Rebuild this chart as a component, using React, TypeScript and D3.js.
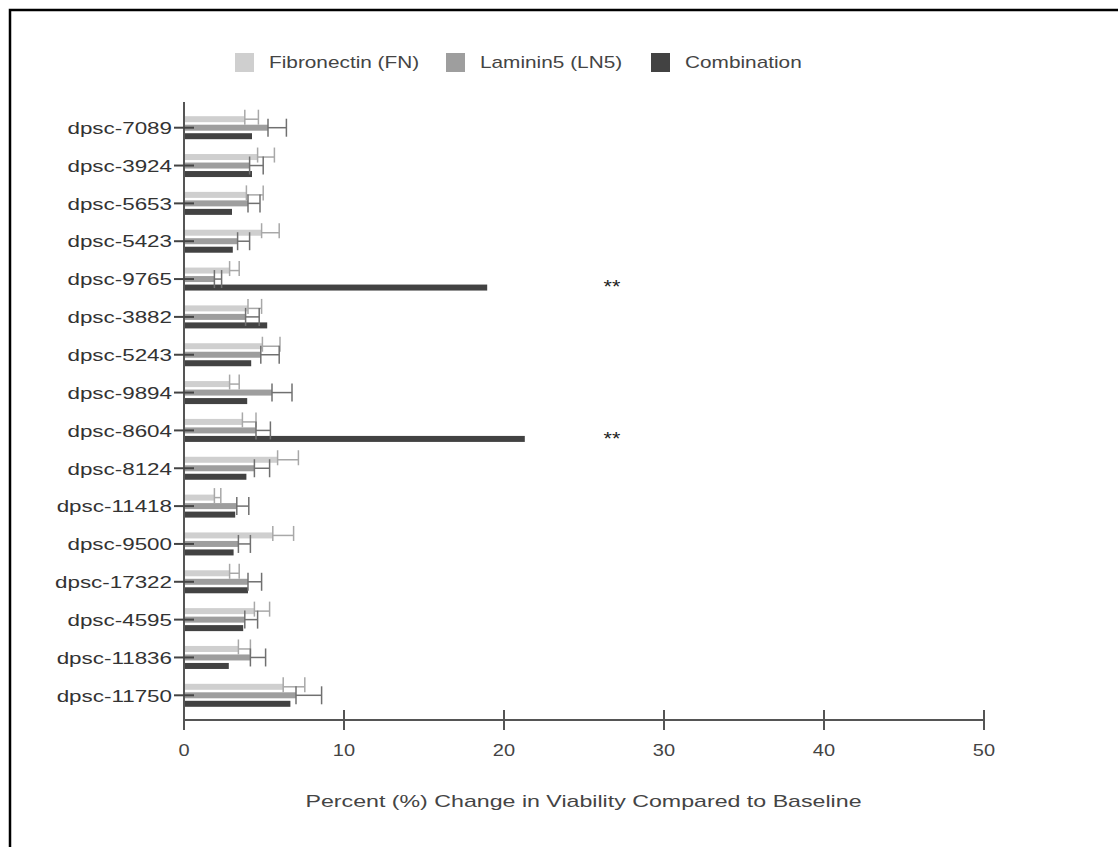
import React from "react";
import * as d3 from "d3";

const categories = [
  "dpsc-7089", "dpsc-3924", "dpsc-5653", "dpsc-5423", "dpsc-9765", "dpsc-3882",
  "dpsc-5243", "dpsc-9894", "dpsc-8604", "dpsc-8124", "dpsc-11418", "dpsc-9500",
  "dpsc-17322", "dpsc-4595", "dpsc-11836", "dpsc-11750",
];
const seriesNames = ["Fibronectin (FN)", "Laminin5 (LN5)", "Combination"];
const fnValues = [3.8, 4.6, 3.9, 4.85, 2.85, 4.0, 4.9, 2.85, 3.65, 5.85, 1.9, 5.55, 2.85, 4.4, 3.4, 6.2];
const fnErrors = [0.85, 1.05, 1.05, 1.1, 0.6, 0.85, 1.1, 0.6, 0.85, 1.3, 0.4, 1.3, 0.6, 0.95, 0.75, 1.35];
const ln5Values = [5.25, 4.1, 4.0, 3.35, 1.9, 3.85, 4.8, 5.5, 4.5, 4.4, 3.3, 3.4, 4.0, 3.8, 4.15, 7.0];
const ln5Errors = [1.15, 0.85, 0.75, 0.75, 0.45, 0.85, 1.15, 1.25, 0.9, 0.95, 0.75, 0.75, 0.85, 0.8, 0.95, 1.6];
const comboValues = [4.25, 4.25, 3.0, 3.05, 18.95, 5.2, 4.2, 3.95, 21.3, 3.9, 3.2, 3.1, 4.0, 3.7, 2.8, 6.65];
const sigCategories = ["dpsc-9765", "dpsc-8604"];
const sigLabel = "**";
const sigXValue = 26.75;
const xTicks = [0, 10, 20, 30, 40, 50];
const xTitle = "Percent (%) Change in Viability Compared to Baseline";

const W = 1118;
const H = 847;
const FONT = "'Liberation Sans', Arial, sans-serif";
const barColors = ["#cfcfcf", "#9e9e9e", "#424242"];
const errColors = ["#a8a8a8", "#707070", "#333"];
const axisColor = "#555";

function SText(props: {
  x: number; y: number; sx: number; size: number; anchor: string; fill: string; children: any;
}) {
  return (
    <text
      transform={`translate(${props.x},${props.y}) scale(${props.sx},1)`}
      fontSize={props.size}
      fontFamily={FONT}
      textAnchor={props.anchor as any}
      dominantBaseline="central"
      fill={props.fill}
    >
      {props.children}
    </text>
  );
}

export default function App() {
  const x = d3.scaleLinear().domain([0, 50]).range([184, 984]);
  const y = d3.scalePoint<string>().domain(categories).range([127.7, 695.3]);
  const barH = 6;
  const offsets = [-8.5, 0, 8.5];
  const values = [fnValues, ln5Values, comboValues];
  const errors = [fnErrors, ln5Errors, null];
  const axisY = 720;

  const legendX = [235, 446, 651];

  return (
    <svg width={W} height={H} style={{ position: "absolute", left: 0, top: 0, background: "#fff" }}>
      <rect x={0} y={0} width={W} height={H} fill="#fff" />
      <rect x={10} y={10} width={W + 50} height={H + 50} fill="none" stroke="#000" strokeWidth={2.5} />

      {/* legend */}
      {seriesNames.map((s, i) => (
        <g key={s}>
          <rect x={legendX[i]} y={53} width={19} height={19} fill={barColors[i]} />
          <SText x={legendX[i] + 34} y={62.5} sx={1.3} size={16} anchor="start" fill="#444">
            {s}
          </SText>
        </g>
      ))}

      {/* bars */}
      {categories.map((c, ci) => {
        const cy = y(c) as number;
        return (
          <g key={c}>
            {values.map((vals, si) => {
              const by = cy + offsets[si];
              return (
                <rect
                  key={si}
                  x={x(0)}
                  y={by - barH / 2}
                  width={x(vals[ci]) - x(0)}
                  height={barH}
                  fill={barColors[si]}
                />
              );
            })}
            {errors.map((errs, si) => {
              if (!errs) return null;
              const by = cy + offsets[si];
              const v0 = x(values[si][ci]);
              const v1 = x(values[si][ci] + errs[ci]);
              const capC = si === 0 ? by - 2 : by;
              const capH = si === 0 ? 15 : 18;
              return (
                <g key={"e" + si} stroke={errColors[si]} strokeWidth={1.5} fill="none">
                  <line x1={v0} x2={v1} y1={by} y2={by} />
                  <line x1={v0} x2={v0} y1={capC - capH / 2} y2={capC + capH / 2} />
                  <line x1={v1} x2={v1} y1={capC - capH / 2} y2={capC + capH / 2} />
                </g>
              );
            })}
          </g>
        );
      })}

      {/* y axis */}
      <line x1={x(0)} x2={x(0)} y1={102} y2={axisY + 10} stroke={axisColor} strokeWidth={2} />
      {categories.map((c) => (
        <g key={"t" + c}>
          <line x1={x(0) - 10} x2={x(0) + 10} y1={y(c)} y2={y(c)} stroke="#444" strokeWidth={2} />
          <SText x={172} y={(y(c) as number) + 0.5} sx={1.4} size={16} anchor="end" fill="#333">
            {c}
          </SText>
        </g>
      ))}

      {/* x axis */}
      <line x1={x(0)} x2={x(50)} y1={axisY} y2={axisY} stroke={axisColor} strokeWidth={2} />
      {xTicks.map((t) => (
        <g key={"x" + t}>
          <line x1={x(t)} x2={x(t)} y1={axisY - 10} y2={axisY + 10} stroke={axisColor} strokeWidth={2} />
          <SText x={x(t)} y={751} sx={1.25} size={16} anchor="middle" fill="#444">
            {t}
          </SText>
        </g>
      ))}
      <SText x={583.5} y={801} sx={1.45} size={16} anchor="middle" fill="#444">
        {xTitle}
      </SText>

      {/* significance */}
      {sigCategories.map((c) => (
        <SText key={"s" + c} x={x(sigXValue)} y={(y(c) as number) + 8} sx={1.2} size={18} anchor="middle" fill="#222">
          {sigLabel}
        </SText>
      ))}
    </svg>
  );
}
